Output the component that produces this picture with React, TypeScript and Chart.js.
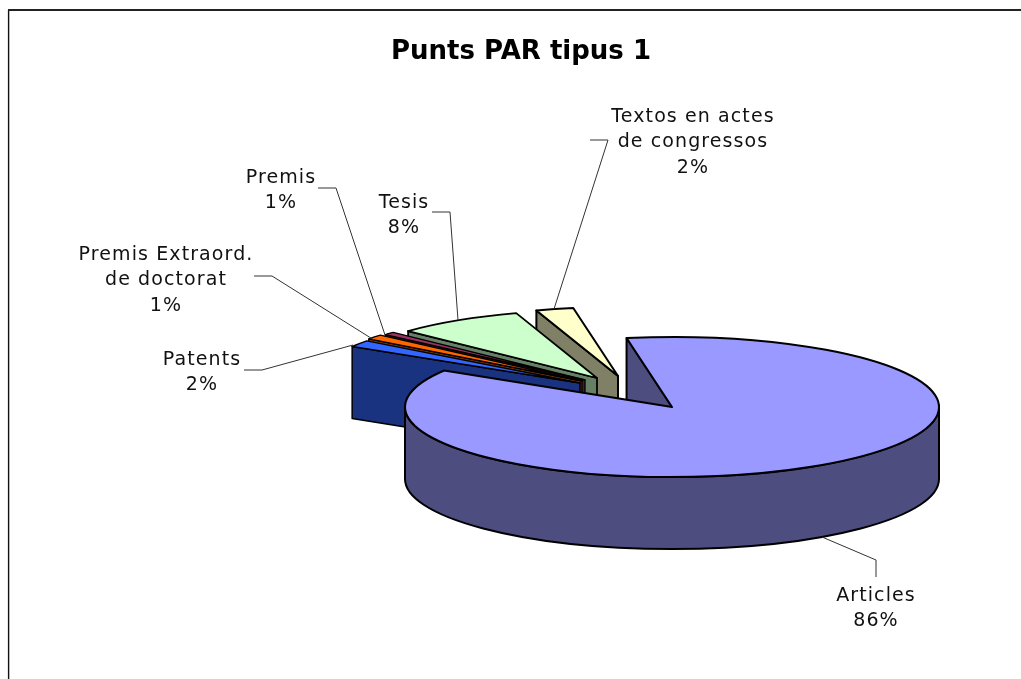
import React, { useEffect, useRef } from "react";
import { Chart, registerables } from "chart.js";

Chart.register(...registerables);

const categories = ["Articles", "Patents", "Premis Extraord. de doctorat", "Premis", "Tesis", "Textos en actes de congressos"];
const values = [86.45, 1.55, 1.1, 0.7, 7.9, 2.3];
const topColors = ["#9999FF", "#3366FF", "#FF6600", "#993366", "#CCFFCC", "#FFFFCC"];
const sideColors = ["#4D4D80", "#1A3380", "#803300", "#4D1A33", "#668066", "#808066"];
const explode = [[0, 0], [-92, -24], [-90, -26], [-87, -27], [-75, -29], [-54, -31]];
const sliceScale = [1, 1, 1, 0.99, 0.975, 0.985];
const sliceLine = [2, 1.5, 1.3, 1.3, 1.8, 2];
const drawOrder = [5, 4, 3, 2, 1, 0];
const labelLines = [["Articles"], ["Patents"], ["Premis Extraord.", "de doctorat"], ["Premis"], ["Tesis"], ["Textos en actes", "de congressos"]];
const labelCentres = [[876, 596], [202, 360], [166, 255], [281, 178], [404, 203], [693, 117]];
const leaders = [
  [[876, 577], [876, 560], [822, 537]],
  [[244, 370], [262, 370], [353, 345]],
  [[254, 276], [272, 276], [374, 340]],
  [[318, 188], [336, 188], [385, 335]],
  [[432, 212], [450, 212], [458, 320]],
  [[590, 140], [608, 140], [554, 309]],
];

const CX = 672, CY = 407, RX = 267, RY = 70, DEPTH = 72, LINE_H = 25.5;
const FONT = "DejaVu Sans";

const pie3d = {
  id: "pie3d",
  beforeDatasetsDraw(chart: any) {
    const ctx = chart.ctx;
    const arcs = chart.getDatasetMeta(0).data;
    const k = RX / arcs[0].outerRadius;
    ctx.save();
    ctx.strokeStyle = "#000";
    ctx.lineJoin = "round";
    for (const i of drawOrder) {
      const a = arcs[i];
      const rx = a.outerRadius * k * sliceScale[i];
      const ry = rx * (RY / RX);
      const cx = CX + explode[i][0];
      const cy = CY + explode[i][1];
      const s = a.startAngle, e = a.endAngle;
      ctx.lineWidth = sliceLine[i];
      ctx.fillStyle = sideColors[i];
      if (Math.cos(s) < 0) {
        const ox = cx + rx * Math.cos(s), oy = cy + ry * Math.sin(s);
        ctx.beginPath();
        ctx.moveTo(cx, cy);
        ctx.lineTo(ox, oy);
        ctx.lineTo(ox, oy + DEPTH);
        ctx.lineTo(cx, cy + DEPTH);
        ctx.closePath();
        ctx.fill();
        ctx.stroke();
      }
      for (const t of [-1, 0, 1]) {
        const lo = Math.max(s, 2 * Math.PI * t);
        const hi = Math.min(e, Math.PI + 2 * Math.PI * t);
        if (hi > lo) {
          ctx.beginPath();
          ctx.ellipse(cx, cy, rx, ry, 0, lo, hi);
          ctx.ellipse(cx, cy + DEPTH, rx, ry, 0, hi, lo, true);
          ctx.closePath();
          ctx.fill();
          ctx.stroke();
        }
      }
      ctx.fillStyle = topColors[i];
      ctx.beginPath();
      ctx.moveTo(cx, cy);
      ctx.ellipse(cx, cy, rx, ry, 0, s, e);
      ctx.closePath();
      ctx.fill();
      ctx.stroke();
    }
    ctx.restore();
    return false;
  },
  afterDraw(chart: any) {
    const ctx = chart.ctx;
    const total = values.reduce((p, v) => p + v, 0);
    ctx.save();
    ctx.strokeStyle = "#111";
    ctx.lineWidth = 1.4;
    ctx.beginPath();
    ctx.moveTo(8.6, 680);
    ctx.lineTo(8.6, 10);
    ctx.stroke();
    ctx.strokeStyle = "#222";
    ctx.lineWidth = 2;
    ctx.beginPath();
    ctx.moveTo(8, 10);
    ctx.lineTo(1022, 10);
    ctx.stroke();
    ctx.strokeStyle = "#333";
    ctx.lineWidth = 1;
    for (const pts of leaders) {
      ctx.beginPath();
      pts.forEach((p, j) => (j ? ctx.lineTo(p[0], p[1]) : ctx.moveTo(p[0], p[1])));
      ctx.stroke();
    }
    ctx.fillStyle = "#111";
    ctx.font = `19px "${FONT}"`;
    ctx.letterSpacing = "1.1px";
    ctx.textAlign = "center";
    ctx.textBaseline = "middle";
    categories.forEach((_, i) => {
      const lines = [...labelLines[i], `${Math.round((100 * values[i]) / total)}%`];
      lines.forEach((l, j) => ctx.fillText(l, labelCentres[i][0], labelCentres[i][1] + j * LINE_H));
    });
    ctx.restore();
  },
};

export default function App() {
  const ref = useRef<HTMLCanvasElement>(null);
  useEffect(() => {
    const chart = new Chart(ref.current as HTMLCanvasElement, {
      type: "pie",
      data: {
        labels: categories,
        datasets: [{ data: values, backgroundColor: topColors, borderColor: "#000", borderWidth: 1 }],
      },
      options: {
        animation: false,
        responsive: false,
        rotation: -9.8,
        layout: { padding: { left: 21 } },
        plugins: {
          legend: { display: false },
          tooltip: { enabled: false },
          title: {
            display: true,
            text: "Punts PAR tipus 1",
            color: "#000",
            font: { family: FONT, size: 26, weight: "bold" },
            padding: { top: 37, bottom: 10 },
          },
        },
      },
      plugins: [pie3d],
    } as any);
    return () => chart.destroy();
  }, []);
  return (
    <div style={{ position: "fixed", left: 0, top: 0, width: 1021, height: 679, background: "#fff" }}>
      <canvas ref={ref} width={1021} height={679} style={{ display: "block" }} />
    </div>
  );
}
